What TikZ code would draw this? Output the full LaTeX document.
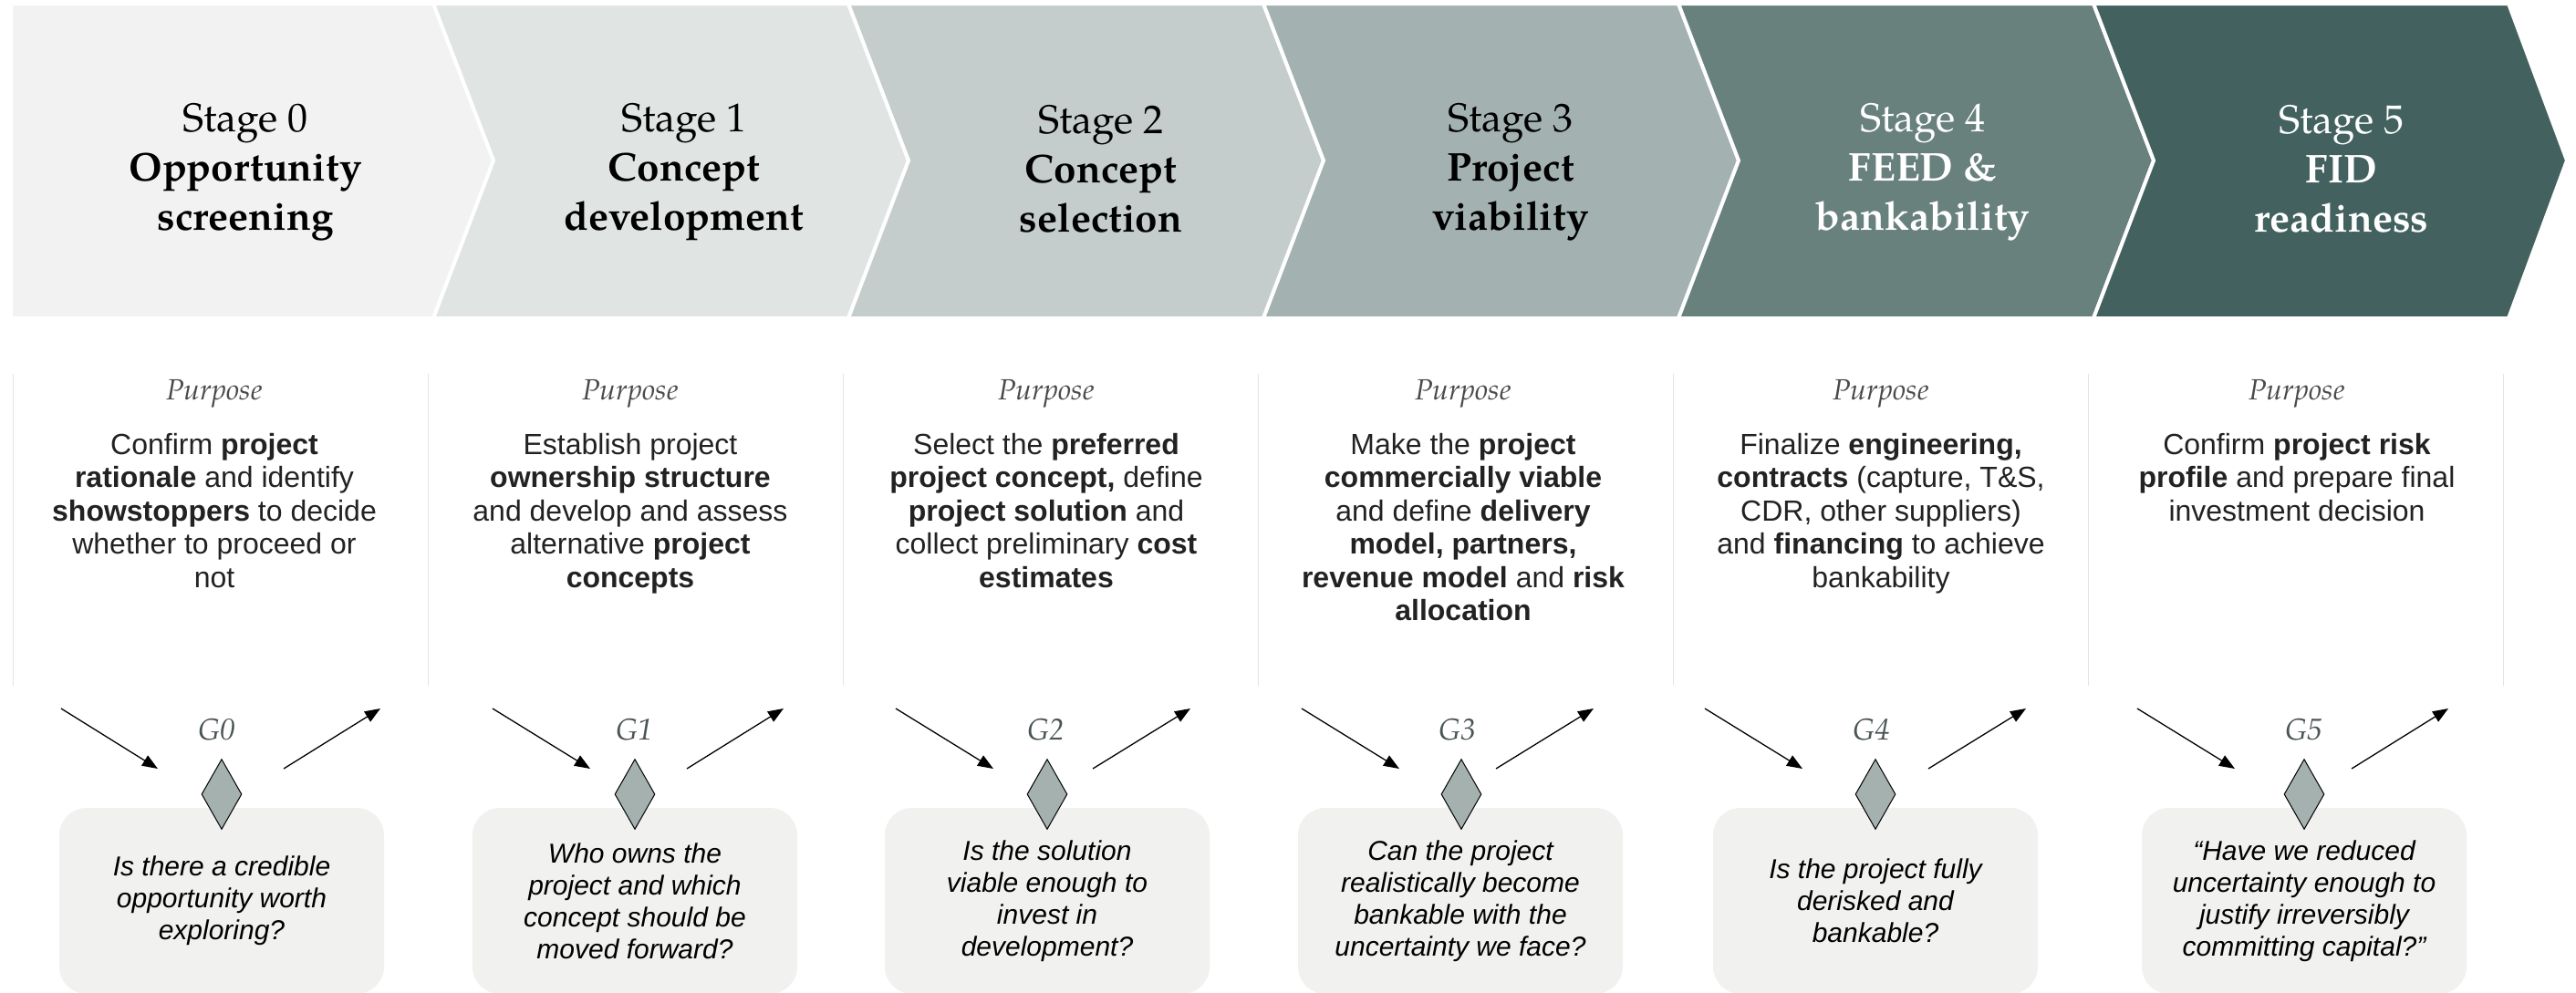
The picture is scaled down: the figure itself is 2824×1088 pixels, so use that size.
\documentclass[tikz,border=0pt]{standalone}
\usepackage{fontspec}
\setmainfont{Liberation Sans}
\newfontfamily\pal{texgyrepagella}[Extension=.otf,UprightFont=*-regular,BoldFont=*-bold,ItalicFont=*-italic,BoldItalicFont=*-bolditalic]
\usetikzlibrary{arrows.meta,shapes.geometric}

\definecolor{stA}{HTML}{F1F2F1}
\definecolor{stB}{HTML}{E0E4E3}
\definecolor{stC}{HTML}{C4CDCC}
\definecolor{stD}{HTML}{A3B1B0}
\definecolor{stE}{HTML}{68817D}
\definecolor{stF}{HTML}{43625F}
\definecolor{qfill}{HTML}{F1F1EF}
\definecolor{gatefill}{HTML}{A5B1AF}
\definecolor{gatetext}{HTML}{4A5355}
\definecolor{septone}{HTML}{E4E4E4}
\definecolor{bodytext}{HTML}{222222}
\definecolor{purposegray}{HTML}{4A4A4A}

\begin{document}
\begin{tikzpicture}[x=1pt,y=-1pt,
  stagebox/.style={draw=white,line width=4pt,line join=miter},
  stagetxt/.style={font=\pal\fontsize{44}{54}\selectfont,align=center,inner sep=0pt},
  purposelbl/.style={font=\pal\itshape\fontsize{32}{38}\selectfont,text=purposegray,inner sep=0pt},
  purposetxt/.style={font=\fontsize{32}{36.5}\selectfont,align=center,inner sep=0pt,anchor=north,text=bodytext},
  sepline/.style={draw=septone,line width=1pt},
  gatelabel/.style={font=\pal\itshape\fontsize{33}{40}\selectfont,text=gatetext,inner sep=0pt},
  gatemark/.style={diamond,draw=black,line width=1pt,fill=gatefill,minimum width=44pt,minimum height=77pt,inner sep=0pt},
  gatearrow/.style={draw=black,line width=1.3pt,-{Triangle[length=17pt,width=13pt]}},
  qbox/.style={fill=qfill,rounded corners=30pt,minimum width=356pt,minimum height=204pt,inner sep=0pt,align=center,font=\itshape\fontsize{30}{35}\selectfont,text=black}
]
% canvas
\fill[white] (0,0) rectangle (2824,1088);
\useasboundingbox (0,0) rectangle (2824,1088);

% stage chevrons
\path[stagebox,fill=stA] (12,4) -- (475,4) -- (541,176) -- (475,349) -- (12,349) -- cycle;
\path[stagebox,fill=stB] (475,4) -- (930,4) -- (996,176) -- (930,349) -- (475,349) -- (541,176) -- cycle;
\path[stagebox,fill=stC] (930,4) -- (1385,4) -- (1451,176) -- (1385,349) -- (930,349) -- (996,176) -- cycle;
\path[stagebox,fill=stD] (1385,4) -- (1840,4) -- (1906,176) -- (1840,349) -- (1385,349) -- (1451,176) -- cycle;
\path[stagebox,fill=stE] (1840,4) -- (2295,4) -- (2361,176) -- (2295,349) -- (1840,349) -- (1906,176) -- cycle;
\path[stagebox,fill=stF] (2295,4) -- (2750,4) -- (2814,176) -- (2750,349) -- (2295,349) -- (2361,176) -- cycle;

% stage titles
\node[stagetxt,text=black] (s0) at (269,189) {Stage 0\\\textbf{Opportunity}\\\textbf{screening}};
\node[stagetxt,text=black] (s1) at (750,189) {Stage 1\\\textbf{Concept}\\\textbf{development}};
\node[stagetxt,text=black] (s2) at (1207,185) {Stage 2\\\textbf{Concept}\\\textbf{selection}};
\node[stagetxt,text=black] (s3) at (1656,189) {Stage 3\\\textbf{Project}\\\textbf{viability}};
\node[stagetxt,text=white] (s4) at (2108,189) {Stage 4\\\textbf{FEED \&}\\\textbf{bankability}};
\node[stagetxt,text=white] (s5) at (2567,185) {Stage 5\\\textbf{FID}\\\textbf{readiness}};

% column separators
\foreach \sx in {14,469,924,1379,1834,2289,2744}
  \draw[sepline] (\sx,410) -- (\sx,752);

% purpose labels
\node[purposelbl] (p0) at (235,432) {Purpose};
\node[purposelbl] (p1) at (691,432) {Purpose};
\node[purposelbl] (p2) at (1147,432) {Purpose};
\node[purposelbl] (p3) at (1604,432) {Purpose};
\node[purposelbl] (p4) at (2062,432) {Purpose};
\node[purposelbl] (p5) at (2518,432) {Purpose};

% purpose descriptions
\node[purposetxt] (d0) at (235,475) {Confirm \textbf{project}\\\textbf{rationale} and identify\\\textbf{showstoppers} to decide\\whether to proceed or\\not};
\node[purposetxt] (d1) at (691,475) {Establish project\\\textbf{ownership structure}\\and develop and assess\\alternative \textbf{project}\\\textbf{concepts}};
\node[purposetxt] (d2) at (1147,475) {Select the \textbf{preferred}\\\textbf{project concept,} define\\\textbf{project solution} and\\collect preliminary \textbf{cost}\\\textbf{estimates}};
\node[purposetxt] (d3) at (1604,475) {Make the \textbf{project}\\\textbf{commercially viable}\\and define \textbf{delivery}\\\textbf{model, partners,}\\\textbf{revenue model} and \textbf{risk}\\\textbf{allocation}};
\node[purposetxt] (d4) at (2062,475) {Finalize \textbf{engineering,}\\\textbf{contracts} (capture, T\&S,\\CDR, other suppliers)\\and \textbf{financing} to achieve\\bankability};
\node[purposetxt] (d5) at (2518,475) {Confirm \textbf{project risk}\\\textbf{profile} and prepare final\\investment decision};

% gate question boxes
\node[qbox] (q0) at (243,988) {Is there a credible\\opportunity worth\\exploring?};
\node[qbox] (q1) at (696,988) {Who owns the\\project and which\\concept should be\\moved forward?};
\node[qbox] (q2) at (1148,988) {Is the solution\\viable enough to\\invest in\\development?};
\node[qbox] (q3) at (1601,988) {Can the project\\realistically become\\bankable with the\\uncertainty we face?};
\node[qbox] (q4) at (2056,988) {Is the project fully\\derisked and\\bankable?};
\node[qbox] (q5) at (2526,988) {“Have we reduced\\uncertainty enough to\\justify irreversibly\\committing capital?”};

% gate markers
\node[gatemark] (m0) at (243,871) {};
\node[gatemark] (m1) at (696,871) {};
\node[gatemark] (m2) at (1148,871) {};
\node[gatemark] (m3) at (1602,871) {};
\node[gatemark] (m4) at (2056,871) {};
\node[gatemark] (m5) at (2526,871) {};

% gate labels
\node[gatelabel] (g0) at (238,800) {G0};
\node[gatelabel] (g1) at (696,800) {G1};
\node[gatelabel] (g2) at (1147,800) {G2};
\node[gatelabel] (g3) at (1598,800) {G3};
\node[gatelabel] (g4) at (2052,800) {G4};
\node[gatelabel] (g5) at (2526,800) {G5};

% gate in/out arrows
\coordinate (a0) at (67,777);   \coordinate (b0) at (173,843);
\coordinate (c0) at (311,843);  \coordinate (e0) at (417,777);
\coordinate (a1) at (540,777);  \coordinate (b1) at (647,843);
\coordinate (c1) at (753,843);  \coordinate (e1) at (859,777);
\coordinate (a2) at (982,777);  \coordinate (b2) at (1089,843);
\coordinate (c2) at (1198,843); \coordinate (e2) at (1305,777);
\coordinate (a3) at (1427,777); \coordinate (b3) at (1534,843);
\coordinate (c3) at (1640,843); \coordinate (e3) at (1747,777);
\coordinate (a4) at (1869,777); \coordinate (b4) at (1976,843);
\coordinate (c4) at (2114,843); \coordinate (e4) at (2221,777);
\coordinate (a5) at (2343,777); \coordinate (b5) at (2450,843);
\coordinate (c5) at (2578,843); \coordinate (e5) at (2684,777);
\foreach \i in {0,...,5} {
  \draw[gatearrow] (a\i) -- (b\i);
  \draw[gatearrow] (c\i) -- (e\i);
}
\end{tikzpicture}
\end{document}
